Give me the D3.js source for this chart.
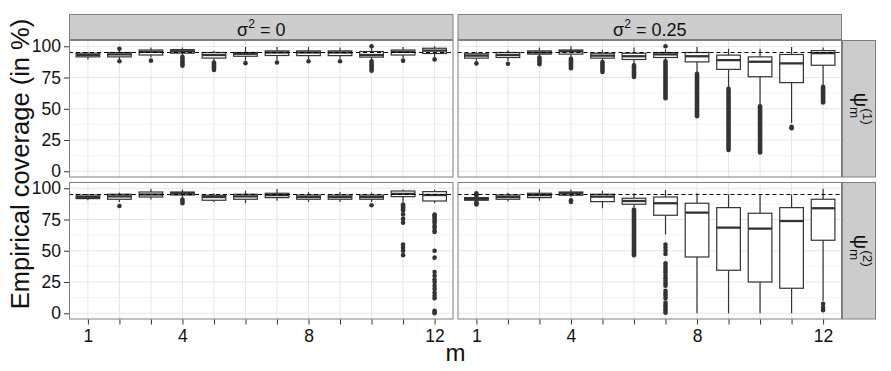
<!DOCTYPE html>
<html>
<head>
<meta charset="utf-8">
<script src="https://cdn.jsdelivr.net/npm/d3@7/dist/d3.min.js"></script>
<style>
  body { margin: 0; background: #fff; }
  text { font-family: "Liberation Sans", Arial, Helvetica, sans-serif; }
</style>
</head>
<body>
<svg width="891" height="371"></svg>
<script>
// categories
var mValues = [1, 2, 3, 4, 5, 6, 7, 8, 9, 10, 11, 12];
var mLabelled = [1, 4, 8, 12];
var yTicks = [0, 25, 50, 75, 100];
var yMinor = [12.5, 37.5, 62.5, 87.5];
var sigmaLabels = ["0", "0.25"];
var psiLabels = ["(1)", "(2)"];
var nominal = 95;

// box stats per m: [lower whisker, q1, median, q3, upper whisker]
var psi1Sigma0 = [
  [89.5, 91.5, 93, 94.5, 95.5], [89.5, 91.5, 93.5, 95, 97], [91, 93, 95.5, 97, 99],
  [93, 94.5, 96, 97.3, 99], [88, 90.5, 93, 95, 96.5], [88.5, 92, 94, 95, 99.5],
  [89, 92.6, 95, 96.3, 99.5], [89.5, 92.5, 95, 96.3, 99.5], [90, 92.5, 95, 96.3, 99],
  [89, 91.3, 93, 95.8, 98.5], [90.5, 93, 95.5, 97, 99.5], [91, 94.2, 96.5, 98.4, 100]
];
var psi1Sigma025 = [
  [88.5, 90.5, 92.5, 94, 95.5], [88.5, 91, 93, 95, 96.8], [91.5, 93.7, 95, 96.3, 99],
  [91, 93.7, 96, 97, 100], [88, 90.5, 92.5, 94.4, 97], [85.5, 89.4, 92, 94.4, 99],
  [89, 91, 93.5, 95, 97.5], [78.5, 87.5, 92, 95, 99.5], [66.5, 81.5, 88.9, 92.9, 98],
  [52.5, 75.6, 87.6, 91.5, 98], [38.6, 70.9, 86.3, 93.4, 99.4], [67.7, 84.8, 94.5, 96.5, 99]
];
var psi2Sigma0 = [
  [90.5, 91.7, 93, 94.6, 95.5], [89, 91.2, 93.5, 95.2, 96.5], [91, 93, 95, 97, 99.5],
  [92.5, 94.6, 96, 97, 99], [89, 90.4, 93, 94.4, 96], [88, 91.2, 93.5, 95.2, 98],
  [90, 92.5, 94.5, 96, 99.5], [89, 91.2, 93, 94.6, 97], [89, 91.2, 93, 94.6, 97],
  [89, 91.2, 93, 94.6, 96.5], [89, 93.3, 95.5, 97.8, 99], [88, 89.8, 94.6, 97.3, 99]
];
var psi2Sigma025 = [
  [89.8, 90.4, 91.5, 92.5, 93.2], [89.5, 91.2, 93, 94.6, 96.5], [90, 92.5, 94.5, 96, 99],
  [93, 94.4, 96, 97, 99], [84, 89.3, 93.3, 95.2, 98], [85, 87.2, 89.8, 92, 96],
  [63, 78.4, 88, 93, 98.6], [0, 45, 80.5, 88, 96], [0, 34.4, 68.5, 84.5, 95.2],
  [0, 25, 67.7, 80, 95], [0, 20, 73.8, 84.5, 95], [10, 58.4, 84, 91.2, 99.7]
];

// single outliers per m
var out1Sigma0 = [[], [98, 88], [88.5], [], [], [86.5], [87], [88], [88], [100], [88.5], [89.5]];
var out1Sigma025 = [[86.3], [86], [], [], [], [], [100], [], [], [], [35.5, 34.5], []];
var out2Sigma0 = [[], [85.8], [], [], [], [], [], [], [], [86.4],
  [79, 75.5, 72.5, 55, 52.5, 50, 46.5],
  [79, 78, 77, 75.5, 74, 72.5, 70, 68.5, 66, 65, 50, 44.5, 33, 30, 27, 25, 22, 19.5, 16.5, 14, 12, 2, 1, 0]];
var out2Sigma025 = [[96, 95, 94, 89, 88, 87], [], [], [90.4, 89], [], [],
  [55, 52.5, 50, 47.5, 40, 38, 36, 34, 32.5, 30, 28, 26, 24, 22, 18, 16, 14, 12, 8.5, 6.5, 4.5, 2.5, 0.5],
  [], [], [], [], [7.5, 4.5, 2.5]];

// outliers so dense they merge into a bar: [low, high]
var run1Sigma0 = [null, null, null, [84.5, 91.5], [81, 87], null, null, null, null, [80.5, 88], null, null];
var run1Sigma025 = [null, null, [85.7, 91], [82.5, 90], [79.4, 87.3], [75.4, 84.7], [58.5, 88], [44, 78], [17, 66], [15, 52], null, [55, 67.5]];
var run2Sigma0 = [null, null, null, [88, 91], null, null, null, null, null, null, [82, 87], null];
var run2Sigma025 = [null, null, null, null, null, [46.5, 83], null, null, null, null, null, null];

var panels = [
  { row: 0, col: 0, stats: psi1Sigma0, out: out1Sigma0, runs: run1Sigma0 },
  { row: 0, col: 1, stats: psi1Sigma025, out: out1Sigma025, runs: run1Sigma025 },
  { row: 1, col: 0, stats: psi2Sigma0, out: out2Sigma0, runs: run2Sigma0 },
  { row: 1, col: 1, stats: psi2Sigma025, out: out2Sigma025, runs: run2Sigma025 }
];

var svg = d3.select("svg");
var plotLeft = 69, plotTop = 40, panelW = 384.5, panelH = 137.5, gapX = 4, gapY = 4.5;
var stripH = 26, stripW = 34;
var dark = "#333333", border = "#7f7f7f";

var x = d3.scaleLinear().domain([0.4, 12.6]).range([0, panelW]);
var y = d3.scaleLinear().domain([-5, 105]).range([panelH, 0]);
var halfBox = (x(1.75) - x(1)) / 2;

panels.forEach(function (p) {
  var px = plotLeft + p.col * (panelW + gapX), py = plotTop + p.row * (panelH + gapY);
  var g = svg.append("g").attr("transform", "translate(" + px + "," + py + ")");

  g.append("rect").attr("width", panelW).attr("height", panelH).attr("fill", "#fff");

  // grid
  g.selectAll(".minor").data(yMinor).enter().append("line")
    .attr("x1", 0).attr("x2", panelW)
    .attr("y1", function (d) { return y(d); }).attr("y2", function (d) { return y(d); })
    .attr("stroke", "#f5f5f5").attr("stroke-width", 1);
  g.selectAll(".major").data(yTicks).enter().append("line")
    .attr("x1", 0).attr("x2", panelW)
    .attr("y1", function (d) { return y(d); }).attr("y2", function (d) { return y(d); })
    .attr("stroke", "#e6e6e6").attr("stroke-width", 1);
  g.selectAll(".vgrid").data(mValues).enter().append("line")
    .attr("x1", function (d) { return x(d); }).attr("x2", function (d) { return x(d); })
    .attr("y1", 0).attr("y2", panelH)
    .attr("stroke", "#e6e6e6").attr("stroke-width", 1);

  // boxplots
  var box = g.selectAll(".box").data(p.stats).enter().append("g")
    .attr("transform", function (d, i) { return "translate(" + x(mValues[i]) + ",0)"; });

  box.append("line").attr("y1", function (d) { return y(d[0]); }).attr("y2", function (d) { return y(d[1]); })
    .attr("stroke", dark).attr("stroke-width", 1.2);
  box.append("line").attr("y1", function (d) { return y(d[3]); }).attr("y2", function (d) { return y(d[4]); })
    .attr("stroke", dark).attr("stroke-width", 1.2);

  box.each(function (d, i) {
    var b = d3.select(this);
    var r = p.runs[i];
    if (r) {
      b.append("line").attr("y1", y(r[0])).attr("y2", y(r[1]))
        .attr("stroke", dark).attr("stroke-width", 4.6).attr("stroke-linecap", "round");
    }
    b.selectAll("circle").data(p.out[i]).enter().append("circle")
      .attr("cy", function (v) { return y(v); }).attr("r", 2.3).attr("fill", dark);
  });

  box.append("rect").attr("x", -halfBox).attr("width", 2 * halfBox)
    .attr("y", function (d) { return y(d[3]); })
    .attr("height", function (d) { return Math.max(0.5, y(d[1]) - y(d[3])); })
    .attr("fill", "#fff").attr("stroke", dark).attr("stroke-width", 1.2);
  box.append("line").attr("x1", -halfBox).attr("x2", halfBox)
    .attr("y1", function (d) { return y(d[2]); }).attr("y2", function (d) { return y(d[2]); })
    .attr("stroke", dark).attr("stroke-width", 2.3);

  // nominal level
  g.append("line").attr("x1", 0).attr("x2", panelW).attr("y1", y(nominal)).attr("y2", y(nominal))
    .attr("stroke", "#000").attr("stroke-width", 1.1).attr("stroke-dasharray", "4,3");

  g.append("rect").attr("x", 0.5).attr("y", 0.5).attr("width", panelW - 1).attr("height", panelH - 1)
    .attr("fill", "none").attr("stroke", border).attr("stroke-width", 1);

  // axes
  if (p.col === 0) {
    var ya = g.append("g").call(d3.axisLeft(y).tickValues(yTicks).tickSize(5).tickPadding(3));
    ya.select(".domain").remove();
    ya.selectAll("line").attr("stroke", dark);
    ya.selectAll("text").attr("font-size", 17.5).attr("fill", "#111").attr("font-family", null);
  }
  if (p.row === 1) {
    var xa = g.append("g").attr("transform", "translate(0," + panelH + ")")
      .call(d3.axisBottom(x).tickValues(mValues).tickSize(5).tickPadding(5)
        .tickFormat(function (d) { return mLabelled.indexOf(d) >= 0 ? d : ""; }));
    xa.select(".domain").remove();
    xa.selectAll("line").attr("stroke", dark);
    xa.selectAll("text").attr("font-size", 17.5).attr("fill", "#111").attr("font-family", null);
  }

  // top strips
  if (p.row === 0) {
    svg.append("rect").attr("x", px + 0.5).attr("y", plotTop - stripH + 0.5).attr("width", panelW - 1).attr("height", stripH - 1)
      .attr("fill", "#cccccc").attr("stroke", border);
    var t = svg.append("text").attr("x", px + panelW / 2).attr("y", plotTop - 4.5)
      .attr("text-anchor", "middle").attr("font-size", 18).attr("fill", "#111");
    t.append("tspan").text("\u03c3");
    t.append("tspan").attr("font-size", 12).attr("dy", -8).text("2");
    t.append("tspan").attr("dy", 8).text(" = " + sigmaLabels[p.col]);
  }
  // right strips
  if (p.col === 1) {
    var sx = px + panelW;
    svg.append("rect").attr("x", sx + 0.5).attr("y", py + 0.5).attr("width", stripW - 1).attr("height", panelH - 1)
      .attr("fill", "#cccccc").attr("stroke", border);
    var s = svg.append("text").attr("transform", "translate(" + (sx + 12) + "," + (py + panelH / 2) + ") rotate(90)")
      .attr("text-anchor", "middle").attr("font-size", 20).attr("fill", "#111");
    s.append("tspan").text("\u03c8");
    s.append("tspan").attr("font-size", 13.5).attr("dy", 4).text("m");
    s.append("tspan").attr("font-size", 13.5).attr("dx", -10).attr("dy", -13).text(psiLabels[p.row]);
  }
});

// axis titles
svg.append("text").attr("x", plotLeft + (2 * panelW + gapX) / 2).attr("y", 361)
  .attr("text-anchor", "middle").attr("font-size", 24).attr("fill", "#111").text("m");
svg.append("text").attr("transform", "translate(29,164) rotate(-90)")
  .attr("text-anchor", "middle").attr("font-size", 25.5).attr("fill", "#111").text("Empirical coverage (in %)");
</script>
</body>
</html>
